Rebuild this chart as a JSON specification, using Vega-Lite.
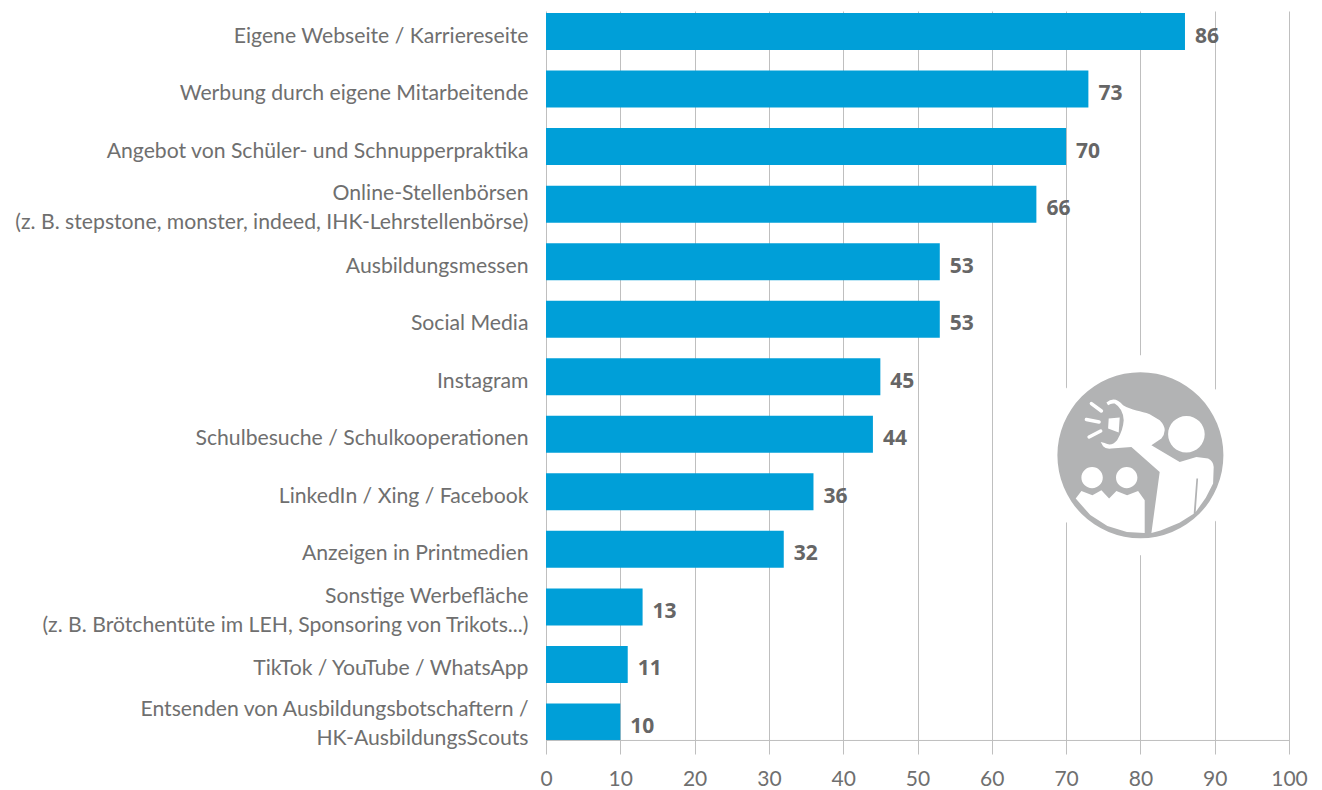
{
"$schema":"https://vega.github.io/schema/vega-lite/v6.json",
"width":743,"height":743,
"autosize":{"type":"none"},
"padding":{"left":546,"top":11,"right":33,"bottom":36},
"background":"white",
"view":{"stroke":null},
"config":{"font":"Lato"},
"data":{"values":[
{"Maßnahme":"Eigene Webseite / Karriereseite","Wert":86},
{"Maßnahme":"Werbung durch eigene Mitarbeitende","Wert":73},
{"Maßnahme":"Angebot von Schüler- und Schnupperpraktika","Wert":70},
{"Maßnahme":"Online-Stellenbörsen\n(z. B. stepstone, monster, indeed, IHK-Lehrstellenbörse)","Wert":66},
{"Maßnahme":"Ausbildungsmessen","Wert":53},
{"Maßnahme":"Social Media","Wert":53},
{"Maßnahme":"Instagram","Wert":45},
{"Maßnahme":"Schulbesuche / Schulkooperationen","Wert":44},
{"Maßnahme":"LinkedIn / Xing / Facebook","Wert":36},
{"Maßnahme":"Anzeigen in Printmedien","Wert":32},
{"Maßnahme":"Sonstige Werbefläche\n(z. B. Brötchentüte im LEH, Sponsoring von Trikots...)","Wert":13},
{"Maßnahme":"TikTok / YouTube / WhatsApp","Wert":11},
{"Maßnahme":"Entsenden von Ausbildungsbotschaftern / \u00a0\nHK-AusbildungsScouts","Wert":10}
]},
"encoding":{
"y":{"field":"Maßnahme","type":"nominal","title":null,"sort":null,
"scale":{"paddingInner":0.357,"paddingOuter":0.135,"align":0.13},
"axis":{"domain":false,"ticks":false,"grid":false,"labelPadding":18,"labelLimit":540,"labelFontSize":21.2,"labelColor":"#6f6f6f","labelLineHeight":29,
"labelOffset":{"condition":[{"test":"indexof(datum.label,'Entsenden')>=0","value":-12},{"test":"indexof(datum.label,'\\n')>=0","value":-10}],"value":5},
"labelExpr":"split(datum.label,'\\n')"}},
"x":{"field":"Wert","type":"quantitative","title":null,
"scale":{"domain":[0,100],"nice":false},
"axis":{"values":[0,10,20,30,40,50,60,70,80,90,100],"domain":false,"ticks":false,"grid":true,"gridColor":"#bfbfbf","gridWidth":1,"labelPadding":14,"labelFontSize":21,"labelColor":"#6f6f6f","labelFlush":false}}
},
"layer":[
{"mark":{"type":"bar","color":"#009fd8"}},
{"mark":{"type":"text","align":"center","baseline":"middle","dx":22,"dy":5,"font":"Open Sans","fontWeight":"bold","fontSize":21,"color":"#666666"},"encoding":{"text":{"field":"Wert","type":"quantitative"}}},
{"data":{"values":[{"Maßnahme":"Entsenden von Ausbildungsbotschaftern / \u00a0\nHK-AusbildungsScouts","von":0,"bis":100}]},
 "mark":{"type":"rule","color":"#bfbfbf","strokeWidth":1},
 "encoding":{"x":{"field":"von","type":"quantitative"},"x2":{"field":"bis"},"y":{"field":"Maßnahme","type":"nominal","bandPosition":1,"sort":null}}},
{"data":{"values":[{"Maßnahme":"Schulbesuche / Schulkooperationen","Wert":80}]},
 "layer":[
 {"mark":{"type":"point","shape":"circle","filled":true,"fill":"#ffffff","opacity":1,"strokeWidth":0,"size":40000,"yOffset":21}},
 {"mark":{"type":"point","shape":"circle","filled":true,"fill":"#b2b3b4","opacity":1,"strokeWidth":0,"size":27556,"yOffset":21}},
 {"mark":{"type":"point","filled":true,"fill":"#ffffff","opacity":1,"strokeWidth":0,"size":4,"yOffset":21,
  "shape":"M-34,-52.7 Q-25.7,-60 -17.3,-50 C-9,-45 1,-44.3 9.3,-41 L19.3,-35 Q24.3,-30 24.3,-25 Q24,-20 21,-16.7 L11,-10 L39.3,6.7 L56,1.7 L67.7,3.3 Q73,6 73.3,11.7 L72.7,28.3 L65.4,42.5 L55.3,56.7 L57.7,23.3 L56,23.3 L53.3,58.5 L39,67.5 L20.2,75.3 L11,77.7 L19.3,16.7 L-9,-8.3 L-29,-6.7 Q-35,-6 -37.3,-9 L-39.7,-13.3 L-35.7,-12.3 Q-29,-8.3 -23.3,-15 Q-17.3,-25 -16.7,-35 Q-17.3,-46.7 -25.7,-51.7 Q-29,-52.5 -32.3,-50 Z M-31.7,-36.7 L-20.7,-37.7 L-21.7,-22.7 L-32.3,-26.7 Z M-64.7,43.3 L-59,35.7 L-48,40 L-39,35 L-31.3,43.3 L-24,35.7 L-13.3,40 L-2.3,35.7 L4.3,45 L4.3,77.7 L-13.5,76.8 L-33,70.7 L-50.1,59.8 Z M-59,22.3 A10.7,10.7 0 1 1 -37.6,22.3 A10.7,10.7 0 1 1 -59,22.3 Z M-24.4,22.3 A10.7,10.7 0 1 1 -3,22.3 A10.7,10.7 0 1 1 -24.4,22.3 Z M27.7,-21 A18.3,18.3 0 1 1 64.3,-21 A18.3,18.3 0 1 1 27.7,-21 Z"}},
 {"mark":{"type":"point","filled":false,"stroke":"#ffffff","opacity":1,"strokeWidth":3.5,"strokeCap":"round","size":4,"yOffset":21,
  "shape":"M-49,-51.7 L-39,-44.3 M-54,-35.7 L-41.3,-33.3 M-51.3,-18.3 L-39.7,-24.3"}}
 ]}
]
}
